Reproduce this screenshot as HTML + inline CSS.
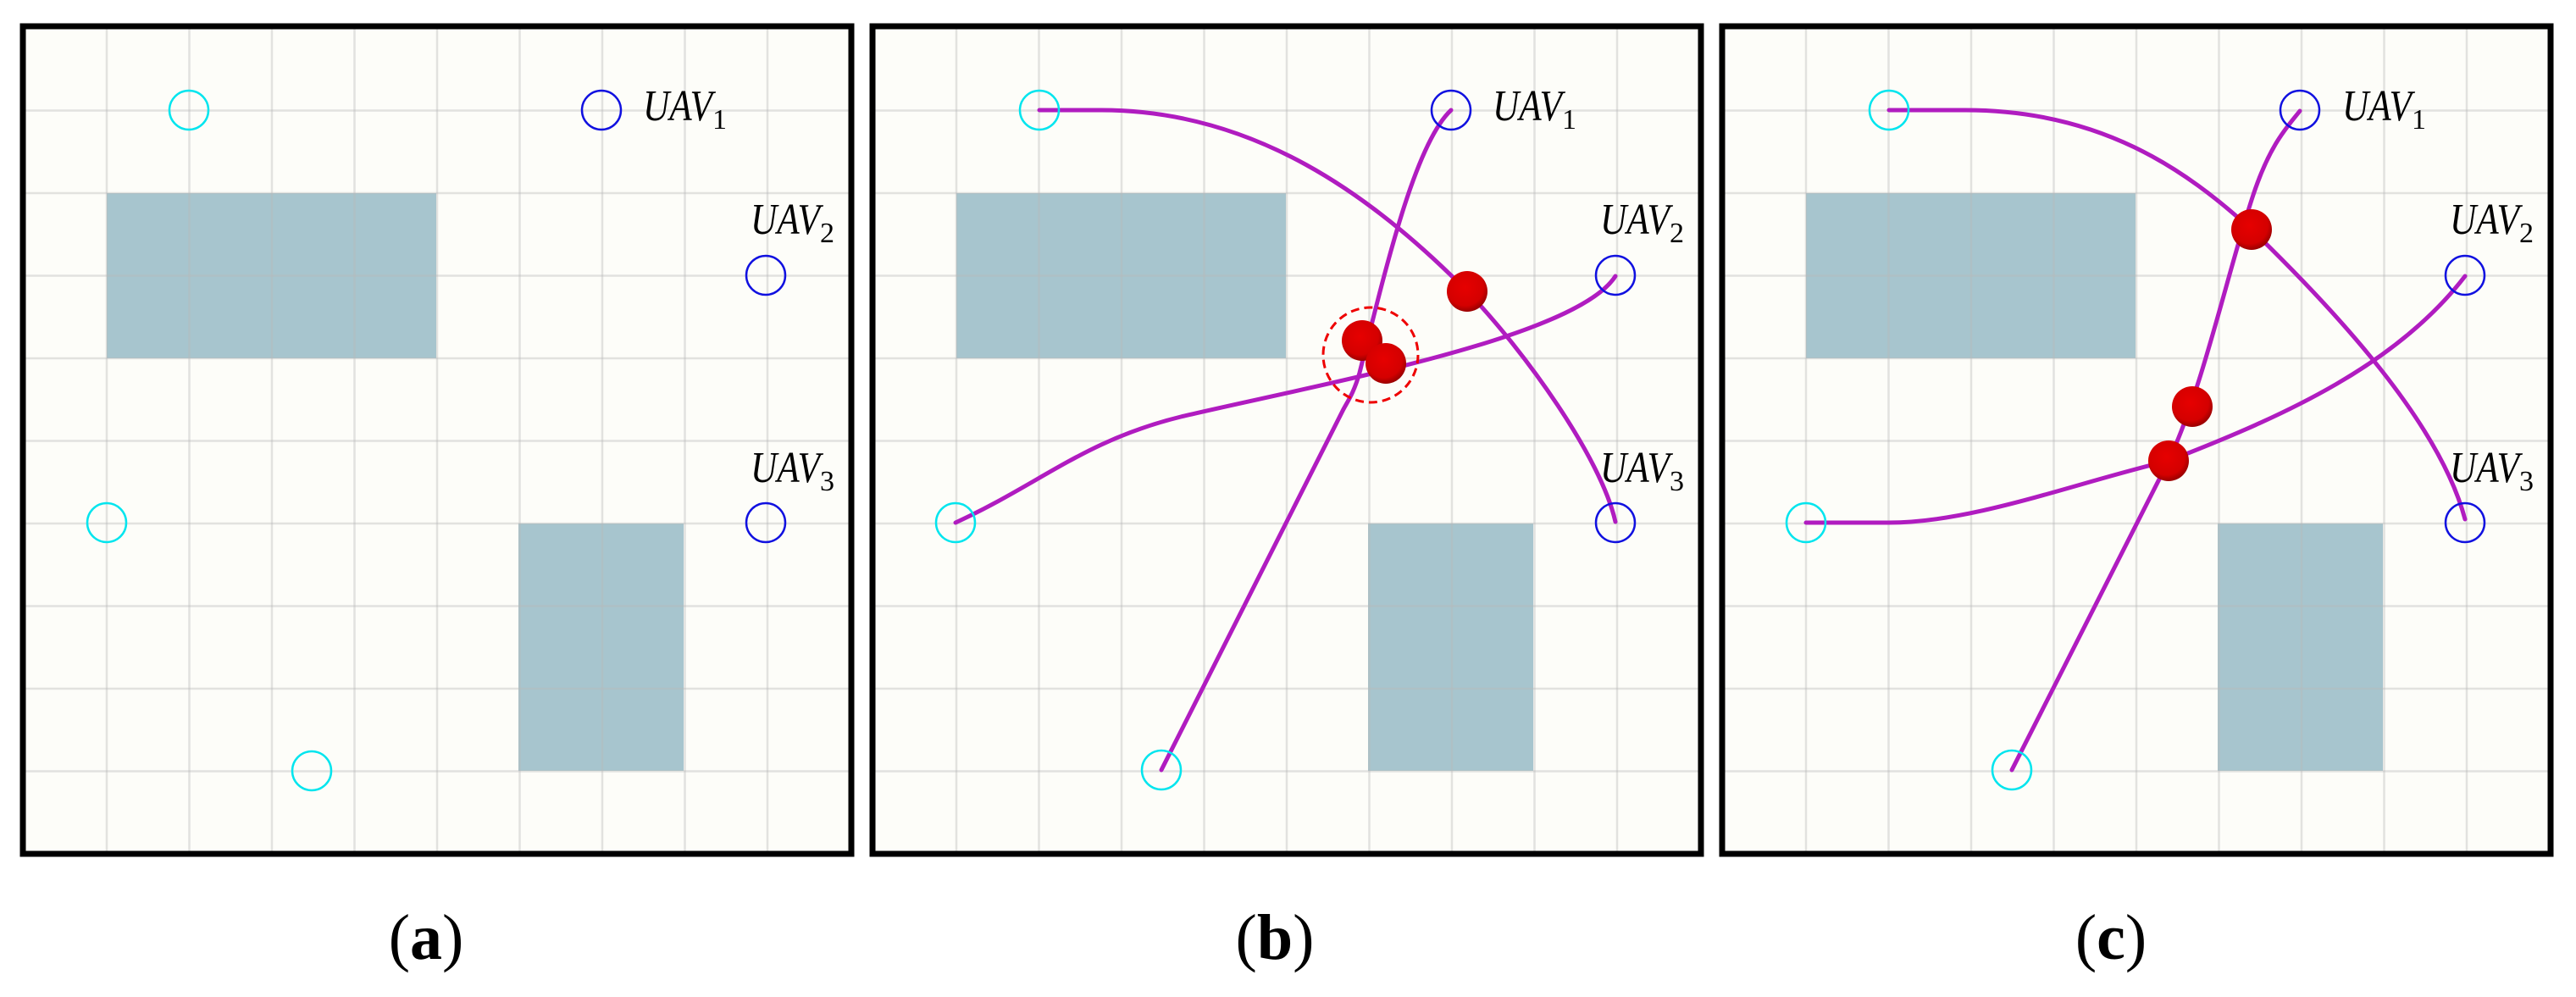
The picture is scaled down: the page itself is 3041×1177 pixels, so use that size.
<!DOCTYPE html>
<html><head><meta charset="utf-8"><style>html,body{margin:0;padding:0;background:#fff}svg{display:block}</style></head>
<body>
<svg width="3041" height="1177" viewBox="0 0 3041 1177" xmlns="http://www.w3.org/2000/svg">
<defs>
<radialGradient id="rb" cx="45%" cy="40%" r="60%">
<stop offset="0" stop-color="#e60000"/><stop offset="0.75" stop-color="#d40000"/><stop offset="1" stop-color="#9a0000"/>
</radialGradient>
<g id="base">
<rect x="27" y="31" width="978" height="977" fill="#fdfdf9"/>
<rect x="126" y="228" width="389" height="195" fill="#a7c5ce"/>
<rect x="612" y="618" width="195" height="292" fill="#a7c5ce"/>
<g stroke="#b8b8b8" stroke-opacity="0.4" stroke-width="2.5">
<line x1="126" y1="33" x2="126" y2="1006"/><line x1="223.5" y1="33" x2="223.5" y2="1006"/>
<line x1="321" y1="33" x2="321" y2="1006"/><line x1="418.5" y1="33" x2="418.5" y2="1006"/>
<line x1="516" y1="33" x2="516" y2="1006"/><line x1="613.5" y1="33" x2="613.5" y2="1006"/>
<line x1="711" y1="33" x2="711" y2="1006"/><line x1="808.5" y1="33" x2="808.5" y2="1006"/>
<line x1="906" y1="33" x2="906" y2="1006"/>
<line x1="29" y1="130.5" x2="1003" y2="130.5"/><line x1="29" y1="228" x2="1003" y2="228"/>
<line x1="29" y1="325.5" x2="1003" y2="325.5"/><line x1="29" y1="423" x2="1003" y2="423"/>
<line x1="29" y1="520.5" x2="1003" y2="520.5"/><line x1="29" y1="618" x2="1003" y2="618"/>
<line x1="29" y1="715.5" x2="1003" y2="715.5"/><line x1="29" y1="813" x2="1003" y2="813"/>
<line x1="29" y1="910.5" x2="1003" y2="910.5"/>
</g>
<rect x="27" y="31" width="978" height="977" fill="none" stroke="#000" stroke-width="7"/>
<g font-family="Liberation Serif, serif" font-size="52" fill="#000">
<text x="759" y="142"><tspan font-style="italic" textLength="82" lengthAdjust="spacingAndGlyphs">UAV</tspan><tspan font-size="34" dy="10">1</tspan></text>
<text x="886" y="276"><tspan font-style="italic" textLength="82" lengthAdjust="spacingAndGlyphs">UAV</tspan><tspan font-size="34" dy="10">2</tspan></text>
<text x="886" y="569"><tspan font-style="italic" textLength="82" lengthAdjust="spacingAndGlyphs">UAV</tspan><tspan font-size="34" dy="10">3</tspan></text>
</g>
</g>
</defs>

<use href="#base"/>
<use href="#base" x="1003"/>
<use href="#base" x="2006"/>

<g fill="none" stroke-width="2.5">
<circle cx="223" cy="130" r="23" stroke="#00e5ee"/>
<circle cx="126" cy="617" r="23" stroke="#00e5ee"/>
<circle cx="368" cy="910" r="23" stroke="#00e5ee"/>
<circle cx="710" cy="130" r="23" stroke="#1010e0"/>
<circle cx="904" cy="325" r="23" stroke="#1010e0"/>
<circle cx="904" cy="617" r="23" stroke="#1010e0"/>
</g>

<g fill="none" stroke="#b01cc0" stroke-width="5" stroke-linejoin="round" stroke-linecap="round">
<path d="M1227,130 L1300,130 C1480,130 1620,230 1733,345 C1800,415 1890,540 1907,616"/>
<path d="M1713,130 C1670,170 1635,320 1605,440 C1598,465 1590,475 1585,485 L1371,909"/>
<path d="M1128,617 C1230,570 1280,520 1394,492 C1550,455 1860,400 1907,326"/>
</g>
<g fill="none" stroke-width="2.5">
<circle cx="1227" cy="130" r="23" stroke="#00e5ee"/>
<circle cx="1128" cy="617" r="23" stroke="#00e5ee"/>
<circle cx="1371" cy="909" r="23" stroke="#00e5ee"/>
<circle cx="1713" cy="130" r="23" stroke="#1010e0"/>
<circle cx="1907" cy="325" r="23" stroke="#1010e0"/>
<circle cx="1907" cy="617" r="23" stroke="#1010e0"/>
</g>
<circle cx="1608" cy="402" r="24" fill="url(#rb)"/>
<circle cx="1636" cy="429" r="24" fill="url(#rb)"/>
<circle cx="1732" cy="344" r="24" fill="url(#rb)"/>
<circle cx="1618" cy="419" r="56" fill="none" stroke="#ee0000" stroke-width="3" stroke-dasharray="10 6"/>

<g fill="none" stroke="#b01cc0" stroke-width="5" stroke-linejoin="round" stroke-linecap="round">
<path d="M2230,130 L2320,130 C2480,130 2580,200 2658,271 C2760,370 2880,500 2910,613"/>
<path d="M2375,909 L2560,544 C2600,460 2630,320 2660,230 C2680,170 2700,150 2715,131"/>
<path d="M2132,617 L2230,617 C2330,617 2450,570 2560,544 C2700,490 2830,430 2910,326"/>
</g>
<g fill="none" stroke-width="2.5">
<circle cx="2230" cy="130" r="23" stroke="#00e5ee"/>
<circle cx="2132" cy="617" r="23" stroke="#00e5ee"/>
<circle cx="2375" cy="909" r="23" stroke="#00e5ee"/>
<circle cx="2715" cy="130" r="23" stroke="#1010e0"/>
<circle cx="2910" cy="325" r="23" stroke="#1010e0"/>
<circle cx="2910" cy="617" r="23" stroke="#1010e0"/>
</g>
<circle cx="2658" cy="271" r="24" fill="url(#rb)"/>
<circle cx="2588" cy="480" r="24" fill="url(#rb)"/>
<circle cx="2560" cy="544" r="24" fill="url(#rb)"/>

<g font-family="Liberation Serif, serif" font-size="76" fill="#000" text-anchor="middle">
<text x="503" y="1132">(<tspan font-weight="bold">a</tspan>)</text>
<text x="1505" y="1132">(<tspan font-weight="bold">b</tspan>)</text>
<text x="2492" y="1132">(<tspan font-weight="bold">c</tspan>)</text>
</g>
</svg>
</body></html>
